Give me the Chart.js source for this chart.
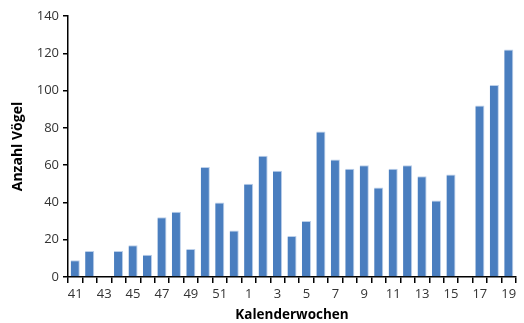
<!DOCTYPE html>
<html>
<head>
<meta charset="utf-8">
<script src="https://cdn.jsdelivr.net/npm/chart.js@4"></script>
<style>
  html,body{margin:0;padding:0;background:#fff;}
  #wrap{width:524px;height:323px;}
</style>
</head>
<body>
<div id="wrap"><canvas id="chart" width="524" height="323"></canvas></div>
<script>
// ===== data =====
const weeks = [41,42,43,44,45,46,47,48,49,50,51,52,1,2,3,4,5,6,7,8,9,10,11,12,13,14,15,16,17,18,19];
const birds = [9,14,null,14,17,12,32,35,15,59,40,25,50,65,57,22,30,78,63,58,60,48,58,60,54,41,55,null,92,103,122];
const yTicks = [0,20,40,60,80,100,120,140];

const FONT = "'Open Sans', 'Noto Sans', sans-serif";

new Chart(document.getElementById("chart"), {
  type: "bar",
  data: {
    labels: weeks.map(String),
    datasets: [{
      label: "Anzahl Vögel",
      data: birds,
      backgroundColor: "#4a7ebf",
      borderColor: "#bcd0ea",
      borderWidth: {top:1,right:1,left:0,bottom:0},
      categoryPercentage: 1,
      barPercentage: 0.63
    }]
  },
  options: {
    responsive: false,
    animation: false,
    layout: {padding: {left: 0, right: 8, top: 16, bottom: 0}},
    plugins: {legend: {display: false}, tooltip: {enabled: false}},
    scales: {
      x: {
        grid: {offset: true, drawOnChartArea: false, color: "#000", tickLength: 6, lineWidth: 1.5},
        border: {color: "#000", width: 1.5},
        ticks: {
          autoSkip: false, maxRotation: 0, color: "#333", padding: 3,
          font: {family: FONT, size: 13},
          callback: (v, i) => i % 2 === 0 ? weeks[i] : ""
        },
        title: {display: true, text: "Kalenderwochen", color: "#000", padding: {top: 4, bottom: 0},
          font: {family: FONT, size: 13.5, weight: "bold"}},
        afterFit: s => { s.height = 46; }
      },
      y: {
        min: 0, max: 140,
        afterBuildTicks: s => { s.ticks = yTicks.map(v => ({value: v})); },
        grid: {drawOnChartArea: false, color: "#000", tickLength: 5, lineWidth: 1.5},
        border: {color: "#000", width: 1.5},
        ticks: {color: "#333", padding: 4, font: {family: FONT, size: 13}},
        title: {display: true, text: "Anzahl Vögel", color: "#000", padding: {top: 10, bottom: 0},
          font: {family: FONT, size: 14, weight: "bold"}},
        afterFit: s => { s.width = 68; }
      }
    }
  }
});
</script>
</body>
</html>
